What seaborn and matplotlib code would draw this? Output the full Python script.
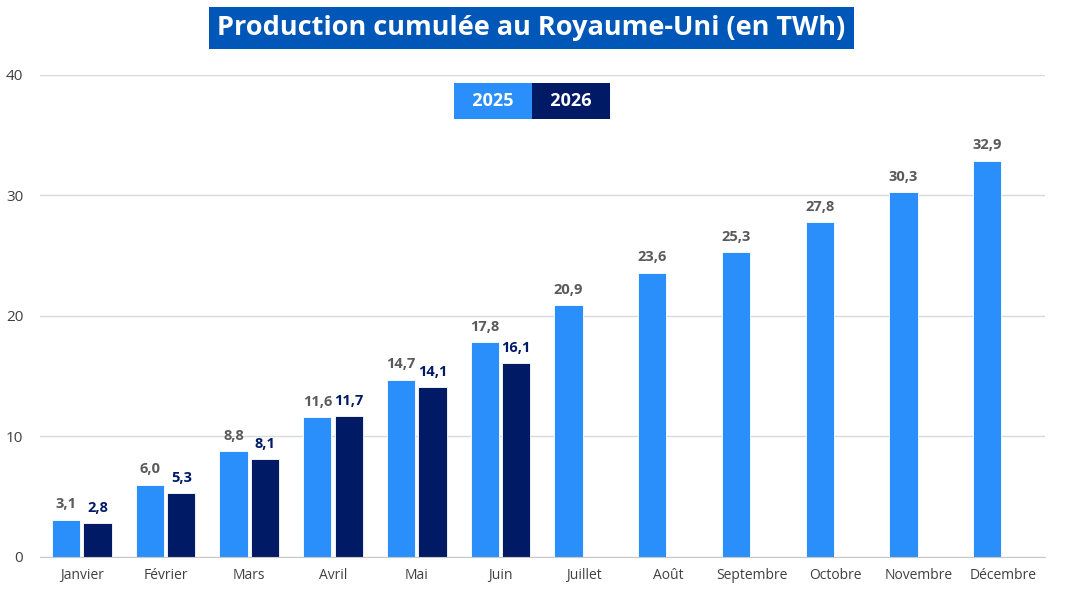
import pandas as pd
import matplotlib.pyplot as plt
import seaborn as sns

# Data
mois = ["Janvier", "Février", "Mars", "Avril", "Mai", "Juin", "Juillet",
        "Août", "Septembre", "Octobre", "Novembre", "Décembre"]
prod_2025 = [3.1, 6.0, 8.8, 11.6, 14.7, 17.8, 20.9, 23.6, 25.3, 27.8, 30.3, 32.9]
prod_2026 = [2.8, 5.3, 8.1, 11.7, 14.1, 16.1, None, None, None, None, None, None]

c25 = "#2A8FFB"
c26 = "#001A66"

def plot_production():
    df = pd.DataFrame({
        "mois": mois * 2,
        "annee": ["2025"] * 12 + ["2026"] * 12,
        "twh": prod_2025 + prod_2026,
    })
    df["twh"] = df["twh"].astype(float)

    sns.set_style("white")
    plt.rcParams["font.family"] = ["Open Sans", "DejaVu Sans"]

    fig = plt.figure(figsize=(10.66, 5.95), dpi=100)
    ax = fig.add_axes([0.0375, 0.064, 0.9425, 0.81])

    sns.barplot(data=df, x="mois", y="twh", hue="annee", order=mois,
                palette={"2025": c25, "2026": c26}, width=0.75, gap=0.1,
                saturation=1, edgecolor="white", linewidth=0.6,
                legend=False, ax=ax)

    # Value labels
    for cont, col in zip(ax.containers, ["#5A5A5A", c26]):
        labels = ["" if pd.isna(v) else f"{v:.1f}".replace(".", ",") for v in cont.datavalues]
        ax.bar_label(cont, labels=labels, padding=6, fontsize=10.5,
                     fontweight="bold", color=col)

    ax.set_ylim(0, 40)
    ax.set_xlim(-0.5, 11.5)
    ax.yaxis.grid(True, color="#D9D9D9", linewidth=1)
    ax.set_axisbelow(True)
    ax.set_xlabel("")
    ax.set_ylabel("")
    for s in ["top", "right", "left"]:
        ax.spines[s].set_visible(False)
    ax.spines["bottom"].set_color("#C8C8C8")
    ax.tick_params(axis="y", length=0, labelsize=11, labelcolor="#404040", pad=12)
    ax.tick_params(axis="x", length=0, labelsize=10, labelcolor="#404040", pad=8)
    # Small tick marks between categories
    ax.set_xticks([i + 0.5 for i in range(-1, 12)], minor=True)
    ax.tick_params(axis="x", which="minor", length=5, color="#C8C8C8")
    ax.set_yticks([0, 10, 20, 30, 40])

    # Title
    fig.text(0.4985, 0.953, "Production cumulée au Royaume-Uni (en TWh)",
             ha="center", va="center", fontsize=19.5, fontweight="bold",
             color="white",
             bbox=dict(boxstyle="square,pad=0.3", facecolor="#0057B8", edgecolor="none"))

    # Legend boxes
    fig.text(0.4625, 0.831, "  2025  ", ha="center", va="center", fontsize=13,
             fontweight="bold", color="white",
             bbox=dict(boxstyle="square,pad=0.5", facecolor=c25, edgecolor="none"))
    fig.text(0.536, 0.831, "  2026  ", ha="center", va="center", fontsize=13,
             fontweight="bold", color="white",
             bbox=dict(boxstyle="square,pad=0.5", facecolor=c26, edgecolor="none"))

    fig.savefig("out.png", dpi=100)

if __name__ == "__main__":
    plot_production()
